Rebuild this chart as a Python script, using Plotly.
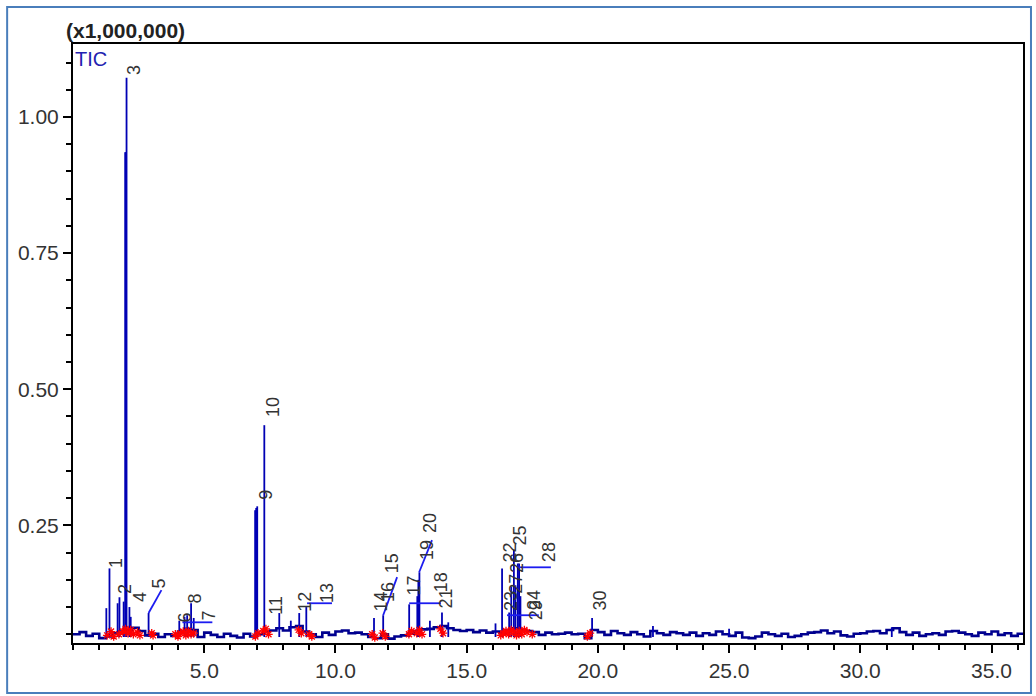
import plotly.graph_objects as go

# ---------------- data (retention time in min, intensity in units of 1,000,000) ----------------
base_rt = [round(0.25 * i, 2) for i in range(146)]
base_int = [
    0.050, 0.054, 0.047, 0.051, 0.043, 0.046, 0.052, 0.055, 0.058, 0.062, 0.056, 0.048,
    0.051, 0.045, 0.050, 0.047, 0.055, 0.060, 0.058, 0.045, 0.053, 0.049, 0.045, 0.051,
    0.047, 0.044, 0.051, 0.046, 0.050, 0.055, 0.057, 0.061, 0.057, 0.063, 0.065, 0.055,
    0.050, 0.045, 0.053, 0.049, 0.055, 0.057, 0.052, 0.053, 0.050, 0.045, 0.043, 0.050,
    0.042, 0.046, 0.048, 0.051, 0.056, 0.059, 0.060, 0.063, 0.065, 0.061, 0.058, 0.056,
    0.058, 0.054, 0.057, 0.053, 0.055, 0.052, 0.058, 0.061, 0.058, 0.056, 0.054, 0.049,
    0.053, 0.050, 0.051, 0.053, 0.050, 0.051, 0.043, 0.058, 0.054, 0.049, 0.056, 0.052,
    0.049, 0.054, 0.050, 0.046, 0.056, 0.052, 0.049, 0.054, 0.052, 0.049, 0.053, 0.047,
    0.052, 0.049, 0.055, 0.050, 0.047, 0.053, 0.044, 0.043, 0.046, 0.053, 0.050, 0.047,
    0.051, 0.045, 0.047, 0.050, 0.053, 0.054, 0.057, 0.052, 0.055, 0.048, 0.046, 0.051,
    0.052, 0.055, 0.056, 0.052, 0.058, 0.061, 0.054, 0.049, 0.053, 0.047, 0.050, 0.052,
    0.049, 0.055, 0.056, 0.053, 0.050, 0.047, 0.053, 0.050, 0.055, 0.049, 0.052, 0.047,
    0.051, 0.049,
]

peak_rt = [1.27, 1.39, 1.70, 1.77, 1.93, 1.99, 2.01, 2.04, 2.15, 2.20, 2.88,
           4.05, 4.25, 4.35, 4.50, 4.60, 6.94, 6.98, 7.02, 7.29, 7.86, 8.30, 8.62, 8.89,
           11.47, 11.82, 12.81, 13.12, 13.16, 13.20, 13.60, 14.06, 14.30,
           16.10, 16.35, 16.62, 16.70, 16.80, 16.86, 16.95, 17.00, 17.05, 19.78,
           22.10, 25.00, 31.20]
peak_int = [0.098, 0.171, 0.107, 0.118, 0.110, 0.935, 0.935, 1.072, 0.100, 0.082, 0.089,
            0.075, 0.082, 0.085, 0.107, 0.080, 0.278, 0.282, 0.285, 0.434, 0.089, 0.075, 0.089, 0.100,
            0.080, 0.085, 0.105, 0.120, 0.150, 0.164, 0.075, 0.090, 0.072,
            0.070, 0.171, 0.090, 0.137, 0.205, 0.140, 0.180, 0.180, 0.120, 0.080,
            0.065, 0.060, 0.063]
peak_base = 0.045

marker_rt = [1.30, 1.45, 1.55, 1.75, 1.90, 2.00, 2.10, 2.20, 2.30, 2.45, 2.55, 3.00, 3.05,
             3.90, 4.00, 4.10, 4.20, 4.30, 4.40, 4.50, 4.60, 6.95, 7.05, 7.25, 7.35, 7.45,
             8.60, 8.70, 9.00, 9.10, 11.40, 11.50, 11.80, 11.90, 12.80, 12.90, 13.10, 13.20, 13.30,
             14.00, 14.10, 16.30, 16.40, 16.50, 16.60, 16.70, 16.80, 16.90, 17.00, 17.10, 17.20,
             17.30, 17.50, 19.60, 19.70]
marker_int = [0.048, 0.055, 0.046, 0.050, 0.055, 0.060, 0.052, 0.058, 0.050, 0.054, 0.048, 0.052, 0.048,
              0.050, 0.046, 0.052, 0.055, 0.048, 0.056, 0.050, 0.052, 0.046, 0.052, 0.056, 0.060, 0.050,
              0.058, 0.052, 0.050, 0.046, 0.050, 0.044, 0.052, 0.046, 0.050, 0.056, 0.052, 0.058, 0.050,
              0.060, 0.052, 0.048, 0.052, 0.056, 0.050, 0.058, 0.054, 0.048, 0.056, 0.050, 0.058,
              0.054, 0.050, 0.046, 0.052]

# peak number labels: (text, rt, intensity at label centre)
label_text = ["1", "2", "3", "4", "5", "6", "8", "7", "9", "10", "11", "12", "13",
              "14", "16", "15", "17", "19", "20", "18", "21",
              "22", "25", "26", "27", "28", "23", "24", "29", "30"]
label_rt = [1.64, 1.98, 2.30, 2.53, 3.29, 4.27, 4.65, 5.19, 7.35, 7.60, 7.73, 8.81, 9.70,
            11.73, 12.01, 12.17, 13.00, 13.49, 13.63, 14.01, 14.22,
            16.65, 17.05, 16.90, 16.90, 18.12, 16.67, 17.55, 17.62, 20.08]
label_int = [0.181, 0.133, 1.087, 0.119, 0.144, 0.081, 0.116, 0.085, 0.306, 0.468, 0.104, 0.110, 0.125,
             0.110, 0.128, 0.181, 0.140, 0.205, 0.254, 0.145, 0.116,
             0.200, 0.232, 0.180, 0.142, 0.200, 0.112, 0.112, 0.095, 0.112]

# leader lines (start rt, start int, end rt, end int)
lead_rt0 = [2.88, 4.17, 8.92, 11.82, 12.81, 13.19, 17.00, 16.54]
lead_i0 = [0.089, 0.072, 0.107, 0.085, 0.107, 0.164, 0.173, 0.085]
lead_rt1 = [3.37, 5.31, 9.87, 12.35, 14.02, 13.68, 18.21, 17.75]
lead_i1 = [0.131, 0.072, 0.107, 0.155, 0.107, 0.223, 0.173, 0.085]

# ---------------- figure ----------------
fig = go.Figure()

fig.add_trace(go.Scatter(x=base_rt, y=base_int, mode="lines", line_shape="hv",
                         line=dict(color="#00008f", width=2.6), hoverinfo="skip"))

px_, py_ = [], []
for t, h in zip(peak_rt, peak_int):
    px_ += [t, t, None]
    py_ += [peak_base, h, None]
fig.add_trace(go.Scatter(x=px_, y=py_, mode="lines",
                         line=dict(color="#0000b4", width=1.8), hoverinfo="skip"))

lx, ly = [], []
for a, b, c, d in zip(lead_rt0, lead_i0, lead_rt1, lead_i1):
    lx += [a, c, None]
    ly += [b, d, None]
fig.add_trace(go.Scatter(x=lx, y=ly, mode="lines",
                         line=dict(color="#1c1cf0", width=1.8), hoverinfo="skip"))

fig.add_trace(go.Scatter(x=marker_rt, y=marker_int, mode="markers",
                         marker=dict(symbol="asterisk-open", size=7, color="red",
                                     line=dict(color="red", width=1.3)),
                         hoverinfo="skip"))

for txt, t, v in zip(label_text, label_rt, label_int):
    fig.add_annotation(x=t, y=v, text=txt, showarrow=False, textangle=-90,
                       xanchor="center", yanchor="middle",
                       font=dict(family="Liberation Sans, Arial", size=18, color="#333333"))

fig.add_annotation(xref="paper", yref="paper", x=-0.009, y=1.0, xanchor="left", yanchor="bottom",
                   text="<b>(x1,000,000)</b>", showarrow=False,
                   font=dict(family="Liberation Sans, Arial", size=21, color="#222222"))
fig.add_annotation(xref="paper", yref="paper", x=0.0, y=0.997, xanchor="left", yanchor="top",
                   text="TIC", showarrow=False,
                   font=dict(family="Liberation Sans, Arial", size=20, color="#2222b0"))

fig.add_shape(type="rect", xref="paper", yref="paper",
              x0=-66 / 952, x1=960 / 952, y0=-50 / 599, y1=636 / 599,
              line=dict(color="#4a7ebb", width=2))

axis_font = dict(family="Liberation Sans, Arial", size=21, color="#333333")
fig.update_xaxes(range=[0, 36.2], showline=True, linecolor="black", linewidth=2, mirror=True,
                 showgrid=False, zeroline=False,
                 tickvals=[5, 10, 15, 20, 25, 30, 35],
                 ticktext=["5.0", "10.0", "15.0", "20.0", "25.0", "30.0", "35.0"],
                 ticks="outside", ticklen=8, tickwidth=2, tickcolor="black", tickfont=axis_font,
                 minor=dict(dtick=1, tick0=0, ticks="outside", ticklen=5, tickwidth=1.5, tickcolor="black"))
fig.update_yaxes(range=[0.034, 1.134], showline=True, linecolor="black", linewidth=2, mirror=True,
                 showgrid=False, zeroline=False,
                 tickvals=[0.25, 0.5, 0.75, 1.0], ticktext=["0.25", "0.50", "0.75", "1.00"],
                 ticks="outside", ticklen=8, tickwidth=2, tickcolor="black", tickfont=axis_font,
                 minor=dict(dtick=0.05, tick0=0, ticks="outside", ticklen=5, tickwidth=1.5, tickcolor="black"))

fig.update_layout(width=1036, height=696, showlegend=False,
                  margin=dict(l=73, r=11, t=44, b=53),
                  paper_bgcolor="white", plot_bgcolor="white")

fig.write_html("out.html")
